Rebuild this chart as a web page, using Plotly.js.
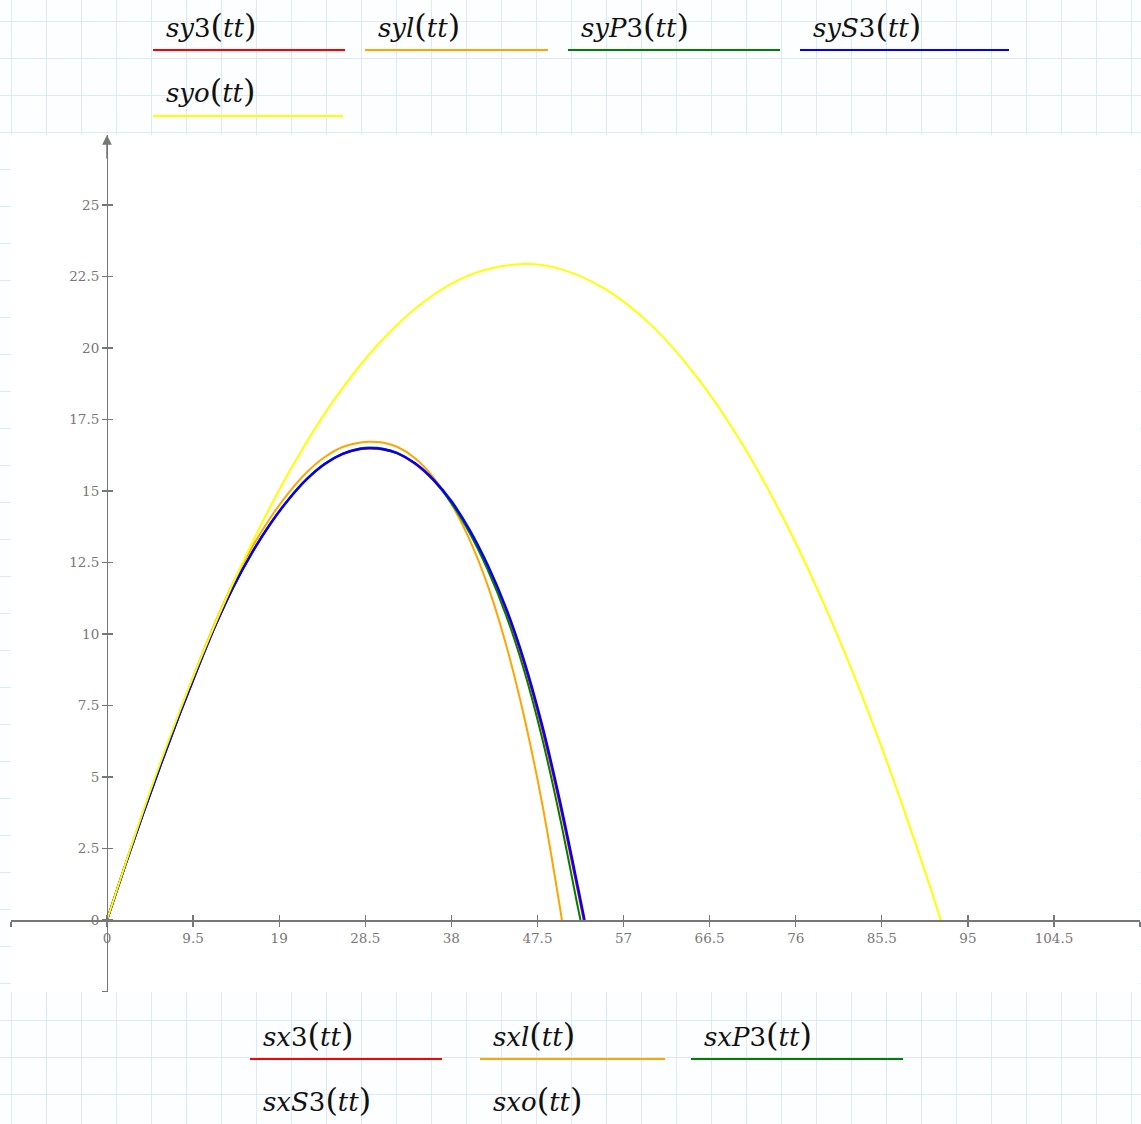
<!DOCTYPE html>
<html>
<head>
<meta charset="utf-8">
<script src="https://cdn.plot.ly/plotly-3.0.1.min.js"></script>
<style>
  html, body { margin:0; padding:0; }
  body {
    width:1141px; height:1124px; overflow:hidden;
    background-color:#fdfeff;
    background-image:
      linear-gradient(to right, #dde9f5 1px, transparent 1px),
      linear-gradient(to bottom, #dde9f5 1px, transparent 1px);
    background-size: 35px 37px;
    background-position: 11px 21px;
  }
  #chart { width:1141px; height:1124px; }
</style>
</head>
<body>
<div id="chart"></div>
<script>
// ---- data (x = horizontal distance, y = height) ----
const names_y = ['sy3', 'syl', 'syP3', 'syS3', 'syo'];
const names_x = ['sx3', 'sxl', 'sxP3', 'sxS3', 'sxo'];
const colors  = ['#ff0000', '#ffa500', '#008000', '#0000ff', '#ffff00'];

const sx3  = [0, 2, 4, 6, 8, 10, 12, 14, 16, 18, 20, 22, 24, 26, 28, 29.1, 30.5, 32, 34, 36, 38, 40, 42, 44, 46, 48, 50, 52, 52.6];
const sy3  = [0, 1.9, 3.73, 5.49, 7.18, 8.79, 10.32, 11.68, 12.84, 13.84, 14.69, 15.4, 15.94, 16.29, 16.47, 16.49, 16.45, 16.32, 15.95, 15.38, 14.61, 13.59, 12.35, 10.85, 8.99, 6.7, 3.99, 0.94, 0];

const sxl  = [0, 2, 4, 6, 8, 10, 12, 14, 16, 18, 20, 22, 24, 26, 28, 29.0, 30.5, 32, 34, 36, 38, 40, 42, 44, 46, 48, 50, 50.2];
const syl  = [0, 1.91, 3.76, 5.54, 7.26, 8.9, 10.45, 11.85, 13.03, 14.05, 14.92, 15.64, 16.18, 16.54, 16.7, 16.72, 16.69, 16.55, 16.15, 15.49, 14.55, 13.31, 11.71, 9.67, 7.15, 4.11, 0.41, 0];

const sxP3 = [0, 2, 4, 6, 8, 10, 12, 14, 16, 18, 20, 22, 24, 26, 28, 29.1, 30.5, 32, 34, 36, 38, 40, 42, 44, 46, 48, 50, 52, 52.25];
const syP3 = [0, 1.9, 3.73, 5.49, 7.18, 8.79, 10.32, 11.68, 12.85, 13.85, 14.7, 15.41, 15.95, 16.31, 16.5, 16.52, 16.48, 16.34, 15.97, 15.38, 14.58, 13.54, 12.25, 10.69, 8.76, 6.38, 3.56, 0.38, 0];

const sxS3 = [0, 2, 4, 6, 8, 10, 12, 14, 16, 18, 20, 22, 24, 26, 28, 29.1, 30.5, 32, 34, 36, 38, 40, 42, 44, 46, 48, 50, 52, 52.7];
const syS3 = [0, 1.9, 3.73, 5.49, 7.18, 8.79, 10.32, 11.68, 12.84, 13.84, 14.69, 15.4, 15.94, 16.3, 16.48, 16.5, 16.46, 16.33, 15.97, 15.41, 14.65, 13.65, 12.42, 10.94, 9.1, 6.84, 4.14, 1.1, 0];

const sxo  = [0, 5, 10, 15, 20, 25, 30, 35, 40, 46, 50, 55, 60, 65, 70, 75, 80, 85, 90, 92];
const syo  = [0, 4.72, 8.89, 12.52, 15.61, 18.16, 20.16, 21.63, 22.55, 22.94, 22.77, 22.06, 20.82, 19.03, 16.70, 13.82, 10.41, 6.45, 1.95, 0];

const xTicks = [0, 9.5, 19, 28.5, 38, 47.5, 57, 66.5, 76, 85.5, 95, 104.5];
const yTicks = [0, 2.5, 5, 7.5, 10, 12.5, 15, 17.5, 20, 22.5, 25];
const xRange = [-10.59, 113.99];
const yRange = [-2.517, 27.45];

// ---- traces ----
const xs = [sx3, sxl, sxP3, sxS3, sxo];
const ys = [sy3, syl, syP3, syS3, syo];
const traces = xs.map((xv, i) => ({
  type: 'scatter', mode: 'lines', x: xv, y: ys[i],
  name: names_y[i],
  line: { color: colors[i], width: i === 3 ? 2.4 : 2, shape: 'spline', smoothing: 1 },
  showlegend: false, hoverinfo: 'skip'
}));
traces.push({ type: 'scatter', x: [], y: [], xaxis: 'x2', yaxis: 'y2', showlegend: false });

// ---- geometry helpers (pixel -> paper) ----
const W = 1141, H = 1124;
const M = { l: 11, r: 1, t: 135, b: 132 };
const pw = W - M.l - M.r, ph = H - M.t - M.b;
const px = v => (v - M.l) / pw;
const py = v => (H - M.b - v) / ph;

const x0pos = (0 - xRange[0]) / (xRange[1] - xRange[0]);
const y0pos = (0 - yRange[0]) / (yRange[1] - yRange[0]);

function fmt(s) {
  // letters italic, digits upright
  return s.replace(/([A-Za-z]+)/g, '<i>$1</i>');
}
function label(n) {
  return fmt(n) + '<span style="font-size:32px">(</span><i>tt</i><span style="font-size:32px">)</span>';
}

const annotations = [];
const shapes = [];
// top legend (y series)
const topItems = [
  { tx: 164, ty: 26, l0: 153, l1: 345, ly: 50 },
  { tx: 376, ty: 26, l0: 365, l1: 548, ly: 50 },
  { tx: 579, ty: 26, l0: 568, l1: 780, ly: 50 },
  { tx: 811, ty: 26, l0: 800, l1: 1009, ly: 50 },
  { tx: 164, ty: 91, l0: 153, l1: 343, ly: 116 }
];
// bottom legend (x series)
const botItems = [
  { tx: 261, ty: 1035, l0: 250, l1: 442, ly: 1059 },
  { tx: 491, ty: 1035, l0: 480, l1: 665, ly: 1059 },
  { tx: 702, ty: 1035, l0: 691, l1: 903, ly: 1059 },
  { tx: 261, ty: 1100, l0: 250, l1: 442, ly: 1126 },
  { tx: 491, ty: 1100, l0: 480, l1: 665, ly: 1126 }
];
const font = { family: 'DejaVu Serif, Liberation Serif, serif', size: 26, color: '#111' };
function addLegend(items, names) {
  items.forEach((it, i) => {
    annotations.push({
      xref: 'paper', yref: 'paper', x: px(it.tx), y: py(it.ty),
      xanchor: 'left', yanchor: 'middle', showarrow: false,
      text: label(names[i]), font: font
    });
    shapes.push({
      type: 'line', xref: 'paper', yref: 'paper',
      x0: px(it.l0), x1: px(it.l1), y0: py(it.ly), y1: py(it.ly),
      line: { color: colors[i], width: 2 }
    });
  });
}
addLegend(topItems, names_y);
addLegend(botItems, names_x);

// arrow at top of the y axis
annotations.push({
  x: 0, y: yRange[1], xref: 'x', yref: 'y', text: '', showarrow: true,
  ax: 0, ay: 25, arrowhead: 2, arrowsize: 1.3, arrowwidth: 1.5,
  arrowcolor: '#777', standoff: 0
});

const tickFont = { family: 'DejaVu Serif, Liberation Serif, serif', size: 13.5, color: '#777' };
const xtv = [xRange[0] + 0.01].concat(xTicks, [xRange[1] - 0.01]);
const xtt = [''].concat(xTicks.map(String), ['']);
const ytv = [yRange[0] + 0.005].concat(yTicks);
const ytt = [''].concat(yTicks.map(String));

const axCommon = { showgrid: false, zeroline: false, tickcolor: '#777', ticklen: 5, tickwidth: 1.2, fixedrange: true };

const layout = {
  width: W, height: H,
  margin: M,
  paper_bgcolor: 'rgba(0,0,0,0)',
  plot_bgcolor: '#ffffff',
  showlegend: false,
  xaxis: Object.assign({}, axCommon, {
    range: xRange, anchor: 'free', position: y0pos, side: 'bottom',
    showline: true, linecolor: '#777', linewidth: 1.5,
    ticks: 'outside', tickmode: 'array', tickvals: xtv, ticktext: xtt,
    tickfont: tickFont
  }),
  xaxis2: Object.assign({}, axCommon, {
    range: xRange, overlaying: 'x', anchor: 'free', position: y0pos, side: 'bottom',
    showline: false, ticks: 'inside', tickmode: 'array', tickvals: xtv,
    showticklabels: false
  }),
  yaxis: Object.assign({}, axCommon, {
    range: yRange, anchor: 'free', position: x0pos, side: 'left',
    showline: true, linecolor: '#777', linewidth: 1.5,
    ticks: 'outside', tickmode: 'array', tickvals: ytv, ticktext: ytt,
    tickfont: tickFont
  }),
  yaxis2: Object.assign({}, axCommon, {
    range: yRange, overlaying: 'y', anchor: 'free', position: x0pos, side: 'left',
    showline: false, ticks: 'inside', tickmode: 'array', tickvals: ytv,
    showticklabels: false
  }),
  annotations: annotations,
  shapes: shapes
};

Plotly.newPlot('chart', traces, layout, { displayModeBar: false, staticPlot: true });
</script>
</body>
</html>
